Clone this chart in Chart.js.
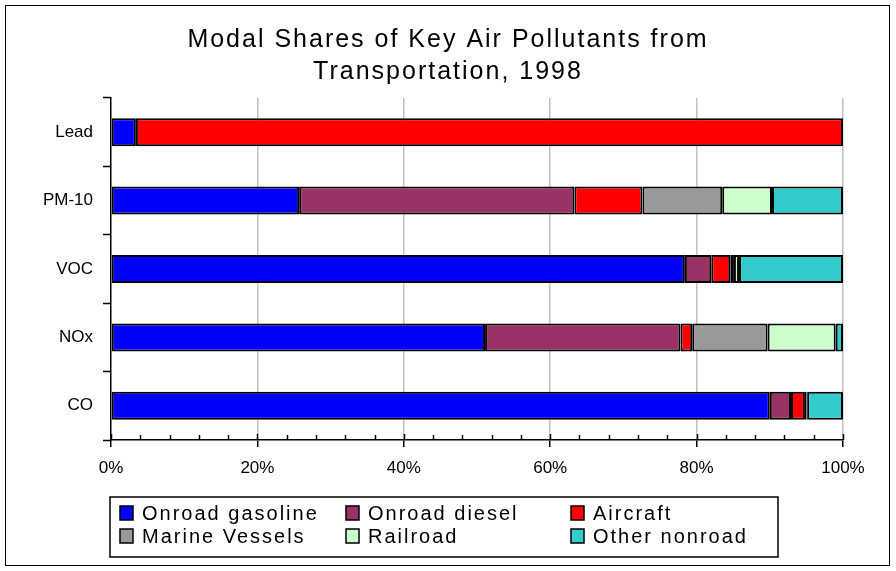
<!DOCTYPE html>
<html>
<head>
<meta charset="utf-8">
<script src="https://cdn.jsdelivr.net/npm/chart.js@4"></script>
<style>
  html, body { margin: 0; padding: 0; background: #fff; }
  canvas { display: block; }
</style>
</head>
<body>
<canvas id="modalShares" width="896" height="571"></canvas>
<script>
// pollutant rows, top to bottom
const pollutants = ['Lead', 'PM-10', 'VOC', 'NOx', 'CO'];

// share of each pollutant by mode, percent (same order as pollutants)
const onroadGasoline = [3.4, 25.7, 78.4, 51.1, 90.0];
const onroadDiesel   = [0,   37.6, 3.6,  26.7, 2.9];
const aircraft       = [96.6, 9.3, 2.6,  1.6,  1.9];
const marineVessels  = [0,   10.9, 0.5,  10.3, 0.2];
const railroad       = [0,   6.8,  0.7,  9.3,  0.1];
const otherNonroad   = [0,   9.7,  14.2, 1.0,  4.9];

const titleLines = ['Modal Shares of Key Air Pollutants from', 'Transportation, 1998'];

const FONT = '"Liberation Sans", Arial, sans-serif';

function mode(label, data, color) {
    return {
        label: label,
        data: data,
        backgroundColor: color,
        borderColor: '#000',
        borderWidth: 2,
        borderSkipped: false,
        barPercentage: 0.41,
        categoryPercentage: 1.0
    };
}

// frame, title, minor ticks and the boxed legend
const decorations = {
    id: 'decorations',
    beforeDraw(chart) {
        const ctx = chart.ctx;
        ctx.save();
        ctx.fillStyle = '#fff';
        ctx.fillRect(0, 0, chart.width, chart.height);
        ctx.strokeStyle = '#000';
        ctx.lineWidth = 1;
        ctx.strokeRect(5.5, 5.5, 884, 560);

        ctx.fillStyle = '#000';
        ctx.font = '25px ' + FONT;
        ctx.letterSpacing = '2px';
        ctx.textAlign = 'center';
        ctx.textBaseline = 'middle';
        ctx.fillText(titleLines[0], 448, 40);
        ctx.fillText(titleLines[1], 448, 72);
        ctx.restore();
    },
    afterDraw(chart) {
        const ctx = chart.ctx;
        const x = chart.scales.x;
        const base = chart.chartArea.bottom;
        ctx.save();
        ctx.strokeStyle = '#000';
        ctx.lineWidth = 1.5;
        ctx.beginPath();
        for (let v = 0; v <= 100; v += 4) {
            const px = Math.round(x.getPixelForValue(v)) + 0.5;
            const len = v % 20 === 0 ? 6 : 5;
            ctx.moveTo(px, base);
            ctx.lineTo(px, base - len);
        }
        ctx.stroke();

        // legend
        ctx.lineWidth = 1.5;
        ctx.strokeRect(110, 497, 668, 60);
        ctx.font = '20px ' + FONT;
        ctx.letterSpacing = '2px';
        ctx.textBaseline = 'middle';
        ctx.textAlign = 'left';
        const cols = [120, 346, 571];
        const rows = [513, 536];
        chart.data.datasets.forEach((ds, i) => {
            const cx = cols[i % 3];
            const cy = rows[Math.floor(i / 3)];
            ctx.fillStyle = ds.backgroundColor;
            ctx.fillRect(cx, cy - 7, 13, 14);
            ctx.strokeRect(cx, cy - 7, 13, 14);
            ctx.fillStyle = '#000';
            ctx.fillText(ds.label, cx + 22, cy + 1);
        });
        ctx.restore();
    }
};

new Chart(document.getElementById('modalShares'), {
    type: 'bar',
    data: {
        labels: pollutants,
        datasets: [
            mode('Onroad gasoline', onroadGasoline, '#0000ff'),
            mode('Onroad diesel', onroadDiesel, '#993366'),
            mode('Aircraft', aircraft, '#ff0000'),
            mode('Marine Vessels', marineVessels, '#999999'),
            mode('Railroad', railroad, '#ccffcc'),
            mode('Other nonroad', otherNonroad, '#33cccc')
        ]
    },
    options: {
        indexAxis: 'y',
        responsive: false,
        animation: false,
        layout: { padding: { top: 98, right: 53, left: 0, bottom: 0 } },
        plugins: {
            legend: { display: false },
            title: { display: false },
            tooltip: { enabled: false }
        },
        scales: {
            x: {
                stacked: true,
                min: 0,
                max: 100,
                afterFit(scale) { scale.height = 131; },
                ticks: {
                    stepSize: 20,
                    padding: 11,
                    color: '#000',
                    font: { family: FONT, size: 17 },
                    callback: v => v + '%'
                },
                grid: {
                    color: ctx => ctx.tick && ctx.tick.value === 0 ? 'rgba(0,0,0,0)' : '#c0c0c0',
                    lineWidth: 1.5,
                    tickColor: '#000',
                    tickLength: 7,
                    tickWidth: 1.5
                },
                border: { color: '#000', width: 1.5 }
            },
            y: {
                stacked: true,
                afterFit(scale) { scale.width = 111; },
                ticks: {
                    padding: 10,
                    color: '#000',
                    font: { family: FONT, size: 17 }
                },
                grid: {
                    offset: true,
                    drawOnChartArea: false,
                    tickColor: '#000',
                    tickLength: 8,
                    tickWidth: 1.5
                },
                border: { color: '#000', width: 1.5 }
            }
        }
    },
    plugins: [decorations]
});
</script>
</body>
</html>
